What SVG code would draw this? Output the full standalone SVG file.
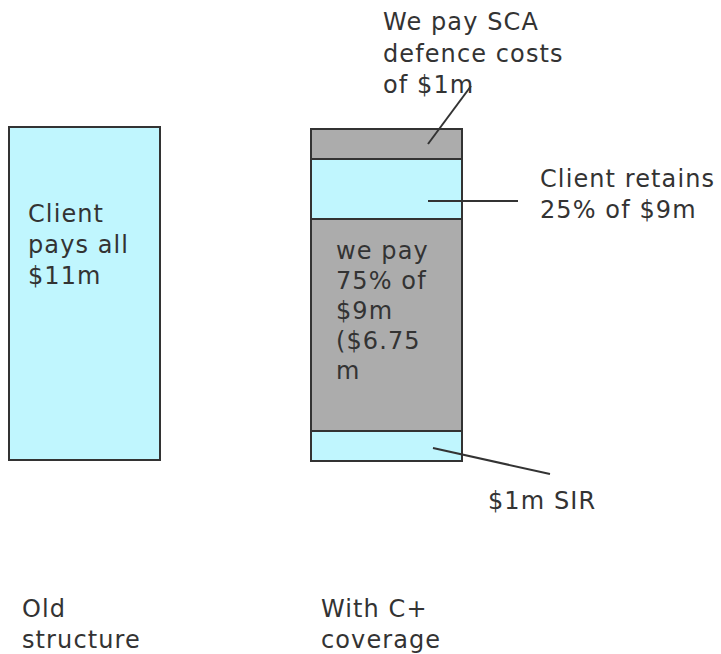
<svg xmlns="http://www.w3.org/2000/svg" width="721" height="654" viewBox="0 0 721 654">
  <style>
    .cyan { fill: #c0f6fe; stroke: #333333; stroke-width: 2; }
    .grey { fill: #acacac; stroke: #333333; stroke-width: 2; }
    .lbl { font-family: "DejaVu Sans", Verdana, sans-serif; font-size: 24px; letter-spacing: 1.1px; fill: #333333; }
    .lead { stroke: #333333; stroke-width: 2; fill: none; }
  </style>
  <rect width="721" height="654" fill="#ffffff"/>

  <!-- old structure column -->
  <g id="old-column">
    <rect class="cyan" x="9" y="127" width="151" height="333"/>
    <text class="lbl" x="28" y="222">Client</text>
    <text class="lbl" x="28" y="253">pays all</text>
    <text class="lbl" x="28" y="284">$11m</text>
  </g>

  <!-- new structure column, stacked layers -->
  <g id="sca-defence">
    <rect class="grey" x="311" y="129" width="151" height="30"/>
  </g>
  <g id="client-retains">
    <rect class="cyan" x="311" y="159" width="151" height="60"/>
  </g>
  <g id="we-pay">
    <rect class="grey" x="311" y="219" width="151" height="212"/>
    <text class="lbl" x="336" y="259">we pay</text>
    <text class="lbl" x="336" y="289">75% of</text>
    <text class="lbl" x="336" y="319">$9m</text>
    <text class="lbl" x="336" y="349">($6.75</text>
    <text class="lbl" x="336" y="379">m</text>
  </g>
  <g id="sir">
    <rect class="cyan" x="311" y="431" width="151" height="30"/>
  </g>

  <!-- callout labels -->
  <g id="label-sca">
    <text class="lbl" x="383" y="30">We pay SCA</text>
    <text class="lbl" x="383" y="62">defence costs</text>
    <text class="lbl" x="383" y="93">of $1m</text>
  </g>
  <g id="label-retains">
    <text class="lbl" x="540" y="187">Client retains</text>
    <text class="lbl" x="540" y="218">25% of $9m</text>
  </g>
  <g id="label-sir">
    <text class="lbl" x="488" y="509">$1m SIR</text>
  </g>

  <!-- column captions -->
  <g id="caption-old">
    <text class="lbl" x="22" y="617">Old</text>
    <text class="lbl" x="22" y="648">structure</text>
  </g>
  <g id="caption-new">
    <text class="lbl" x="321" y="617">With C+</text>
    <text class="lbl" x="321" y="648">coverage</text>
  </g>

  <!-- leader lines -->
  <g id="connectors">
    <line class="lead" x1="428" y1="144" x2="471" y2="86"/>
    <line class="lead" x1="428" y1="201" x2="518" y2="201"/>
    <line class="lead" x1="433" y1="448" x2="550" y2="474"/>
  </g>
</svg>
